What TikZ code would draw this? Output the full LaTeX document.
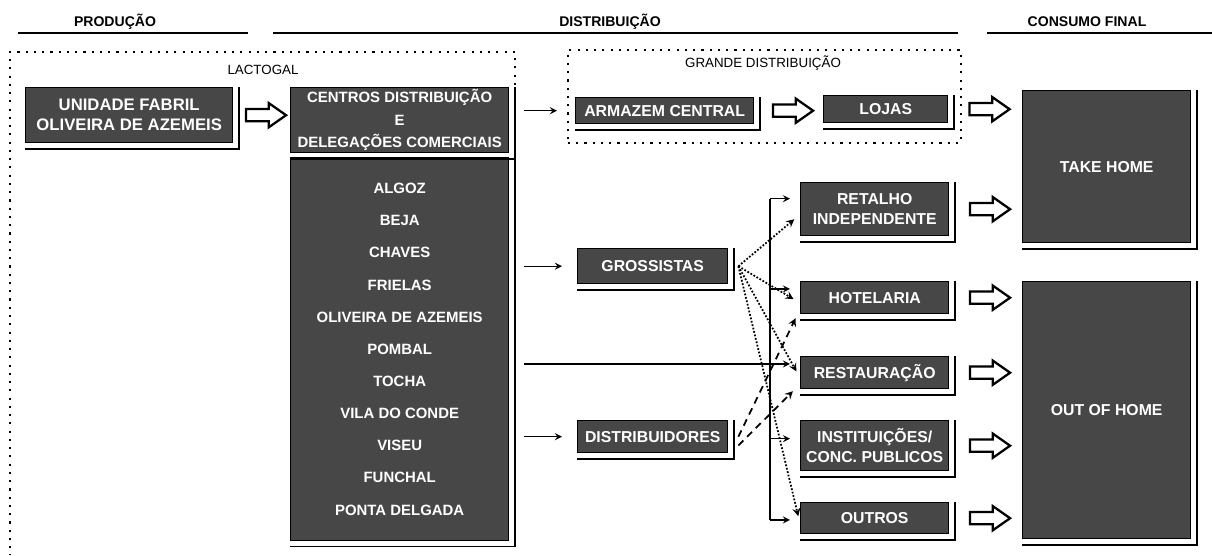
\documentclass[tikz,border=0pt]{standalone}
\usepackage{fontspec}
\setmainfont{Liberation Sans}
\usepackage{tikz}
\usetikzlibrary{arrows}
\usetikzlibrary{calc}
\usetikzlibrary{shapes.arrows}

\tikzset{
	caixa/.style={draw, thick, fill=black!72, text=white, align=center, inner sep=0pt,
		anchor=north west, font=\bfseries\fontsize{9}{11.5}\selectfont},
	titulo/.style={font=\bfseries\fontsize{8}{10}\selectfont},
	grupo/.style={font=\fontsize{7.6}{9}\selectfont},
	pontilhado/.style={line width=1pt, dash pattern=on 1.2pt off 3.5pt},
	seta/.style={shape=single arrow, draw, line width=1.3pt, fill=white, inner xsep=0pt,
		inner ysep=0.1cm, minimum height=0.8cm, single arrow head extend=0.12cm,
		single arrow tip angle=70},
	fluxo/.style={->, thick},
	pontos/.style={->, line width=1pt, densely dotted},
	tracos/.style={->, line width=1pt, dash pattern=on 4pt off 3pt}
}

\begin{document}
\begin{tikzpicture}[x=0.02cm, y=-0.02cm, >=stealth]
		\useasboundingbox (0,0) rectangle (1212,555);
		%coordinates
		\coordinate (NWunid)   at (25,87);
		\coordinate (NWcent)   at (290,87);
		\coordinate (NWloc)    at (290,157);
		\coordinate (NWgrande) at (567,49);
		\coordinate (NWarm)    at (575,97);
		\coordinate (NWloj)    at (823,95);
		\coordinate (NWgross)  at (577,248);
		\coordinate (NWdist)   at (577,420);
		\coordinate (NWtake)   at (1022,90);
		\coordinate (NWout)    at (1022,281);
		\coordinate (bus)      at (770,0);
		
		%titles
		\node[titulo] (prod) at (115,22) {PRODUÇÃO};
		\node[titulo] (dist) at (610,22) {DISTRIBUIÇÃO};
		\node[titulo] (cons) at (1087,22) {CONSUMO FINAL};
		\draw[line width=0.9pt] (18,33) -- (248,33);
		\draw[line width=0.9pt] (273,33) -- (958,33);
		\draw[line width=0.9pt] (987,33) -- (1212,33);
		
		%groups
		\draw[pontilhado] (515,85) -- (515,52) -- (10,52) -- (10,555);
		\node[grupo] (lactogal) at (263,70) {LACTOGAL};
		\node[draw, pontilhado, anchor=north west, minimum width=7.86cm, minimum height=1.86cm] (grande) at (NWgrande) {};
		\node[grupo] (grandelbl) at (763,63) {GRANDE DISTRIBUIÇÃO};
		
		%nodes
		\node[caixa, minimum width=4.14cm, minimum height=1.1cm, font=\bfseries\fontsize{9.5}{11.5}\selectfont] (unid) at (NWunid) {UNIDADE FABRIL\\OLIVEIRA DE AZEMEIS};
		\node[caixa, minimum width=4.36cm, minimum height=1.3cm, font=\bfseries\fontsize{8.5}{12.8}\selectfont] (centros) at (NWcent) {CENTROS DISTRIBUIÇÃO\\E\\DELEGAÇÕES COMERCIAIS};
		\node[caixa, minimum width=4.36cm, minimum height=7.66cm, font=\bfseries\fontsize{8.5}{18.3}\selectfont] (locais) at (NWloc)
			{ALGOZ\\BEJA\\CHAVES\\FRIELAS\\OLIVEIRA DE AZEMEIS\\POMBAL\\TOCHA\\VILA DO CONDE\\VISEU\\FUNCHAL\\PONTA DELGADA};
		\node[caixa, minimum width=3.56cm, minimum height=0.52cm] (armazem) at (NWarm) {ARMAZEM CENTRAL};
		\node[caixa, minimum width=2.48cm, minimum height=0.54cm] (lojas) at (NWloj) {LOJAS};
		\node[caixa, minimum width=3.0cm, minimum height=0.7cm] (grossistas) at (NWgross) {GROSSISTAS};
		\node[caixa, minimum width=3.0cm, minimum height=0.64cm] (distrib) at (NWdist) {DISTRIBUIDORES};
		\node[caixa, minimum width=2.96cm, minimum height=1.06cm] (retalho) at (800,182) {RETALHO\\INDEPENDENTE};
		\node[caixa, minimum width=2.96cm, minimum height=0.64cm] (hotelaria) at (800,281) {HOTELARIA};
		\node[caixa, minimum width=2.96cm, minimum height=0.64cm] (restauracao) at (800,356) {RESTAURAÇÃO};
		\node[caixa, minimum width=2.96cm, minimum height=1.0cm] (instit) at (800,420) {INSTITUIÇÕES/\\CONC. PUBLICOS};
		\node[caixa, minimum width=2.96cm, minimum height=0.62cm] (outros) at (800,502) {OUTROS};
		\node[caixa, minimum width=3.36cm, minimum height=3.04cm] (takehome) at (NWtake) {TAKE HOME};
		\node[caixa, minimum width=3.36cm, minimum height=5.14cm] (outofhome) at (NWout) {OUT OF HOME};
		
		%shadows
		\foreach \n in {unid,centros,locais,armazem,lojas,takehome,grossistas,distrib,retalho,hotelaria,restauracao,instit,outros,outofhome}
			\draw[line width=1pt] ([xshift=3pt]\n.north east) |- ([yshift=-3pt]\n.south west);
		
		%flows
		\draw[fluxo, shorten <=0.3cm, shorten >=0.2cm] (centros.east |- armazem.west) -- (grande.west |- armazem.west);
		\draw[fluxo, shorten <=0.3cm, shorten >=0.3cm] (locais.east |- grossistas.west) -- (grossistas.west);
		\draw[fluxo, shorten <=0.3cm, shorten >=0.3cm] (locais.east |- distrib.west) -- (distrib.west);
		\foreach \n/\d in {retalho/6pt,hotelaria/5pt,restauracao/5pt,instit/4pt,outros/-1pt}{
			\coordinate (\n-in) at ([yshift=\d]\n.west);
			\draw[fluxo, shorten >=0.2cm] (bus |- \n-in) -- (\n-in);
		}
		\draw[thick] (bus |- retalho-in) -- (bus |- outros-in);
		\draw[thick, shorten <=0.3cm] (locais.east |- restauracao-in) -- (bus |- restauracao-in);
		
		\coordinate (gross-out) at ([xshift=0.2cm]grossistas.east);
		\foreach \n in {retalho,hotelaria,restauracao,outros}
			\draw[pontos, shorten >=0.15cm] (gross-out) -- ([yshift=-3pt]\n.west);
		\coordinate (dist-out) at ([xshift=0.2cm]distrib.east);
		\draw[tracos, shorten >=0.2cm] (dist-out) -- ([yshift=3pt]hotelaria.south west);
		\draw[tracos, shorten >=0.2cm] ([yshift=-5pt]dist-out) -- ([yshift=3pt]restauracao.south west);
		
		%hollow arrows
		\path (unid.east) -- node[seta] (s-unid) {} (unid.east -| centros.west);
		\path (armazem.east) -- node[seta] (s-arm) {} (armazem.east -| lojas.west);
		\path (lojas.east) -- node[seta] (s-loj) {} (lojas.east -| takehome.west);
		\path (retalho.east) -- node[seta] (s-ret) {} (retalho.east -| takehome.west);
		\foreach \n in {hotelaria,restauracao,instit,outros}
			\path (\n.east) -- node[seta] (s-\n) {} (\n.east -| outofhome.west);
\end{tikzpicture}
\end{document}
